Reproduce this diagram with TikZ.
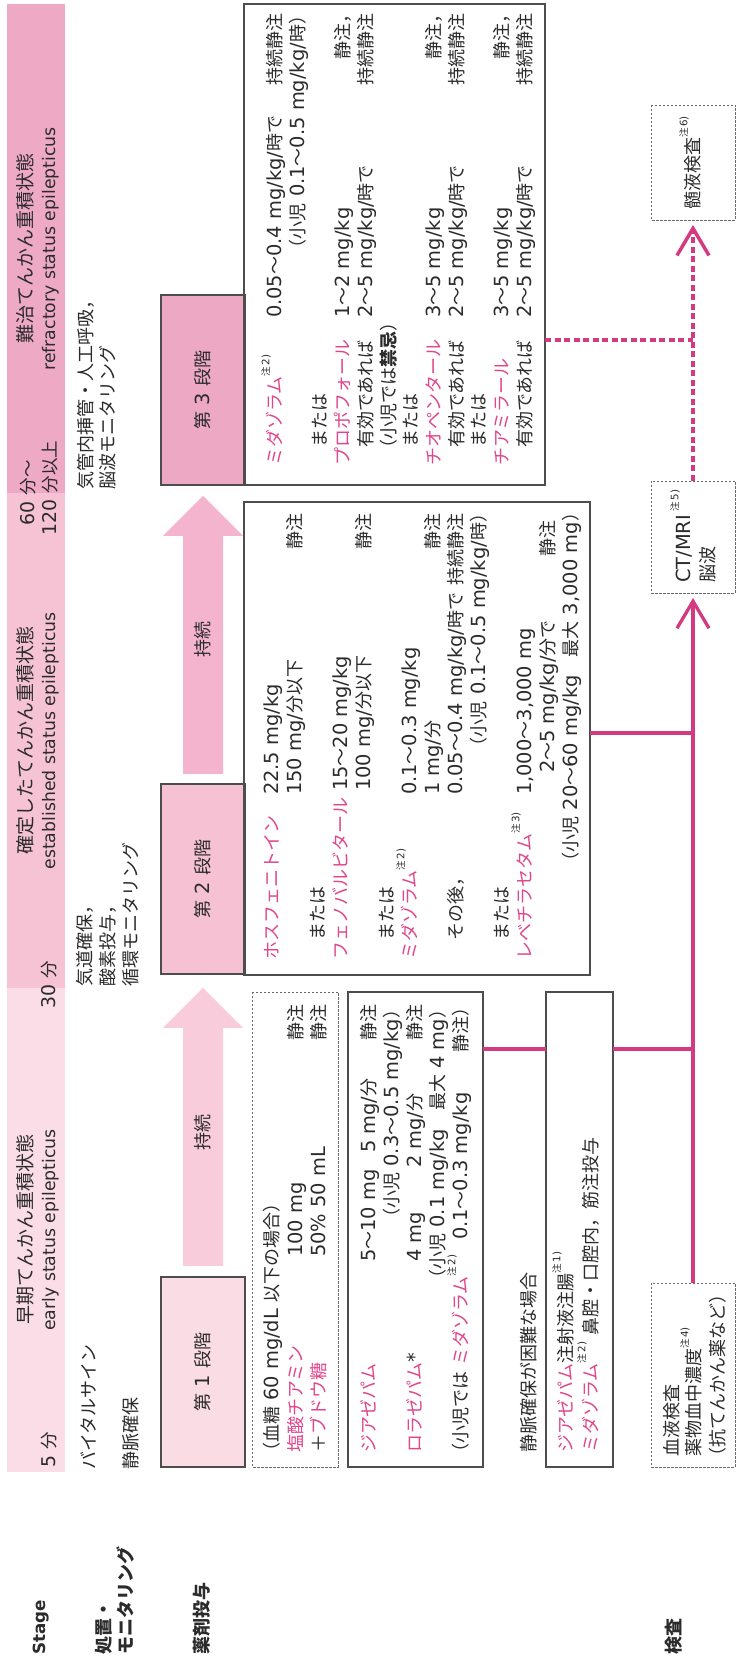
\documentclass[tikz,border=0pt]{standalone}
\usepackage{fontspec}
\setmainfont{DejaVu Sans}[Scale=1.08]
\newfontfamily\latf{DejaVu Sans}[Scale=1.08]
\newfontfamily\cjkf{Noto Sans CJK JP}
\usetikzlibrary{arrows.meta}
\XeTeXinterchartokenstate=1
\newXeTeXintercharclass\cjkcls
\newcount\cjkcc
\def\setcjkrange#1#2{\cjkcc=#1\relax\loop\XeTeXcharclass\cjkcc=\cjkcls\relax\ifnum\cjkcc<#2\relax\advance\cjkcc by 1\relax\repeat}
\setcjkrange{"3000}{"30FF}
\setcjkrange{"4E00}{"9FFF}
\setcjkrange{"FF00}{"FFEF}
\XeTeXinterchartoks 0 \cjkcls = {\cjkf}
\XeTeXinterchartoks 4095 \cjkcls = {\cjkf}
\XeTeXinterchartoks \cjkcls 0 = {\latf}
\XeTeXinterchartoks \cjkcls 4095 = {\latf}
\XeTeXinterchartoks 4095 0 = {\latf}

\definecolor{bandA}{HTML}{FADDE6}
\definecolor{bandB}{HTML}{F6C3D5}
\definecolor{bandC}{HTML}{EEA9C4}
\definecolor{fillA}{HTML}{FADCE5}
\definecolor{fillB}{HTML}{F5C1D3}
\definecolor{fillC}{HTML}{EDA8C3}
\definecolor{arA}{HTML}{F9CCDB}
\definecolor{arB}{HTML}{F5B4CD}
\definecolor{pinkt}{HTML}{E0468C}
\definecolor{mag}{HTML}{D43A80}
\definecolor{bord}{HTML}{4D4D4D}
\definecolor{dbord}{HTML}{6A6A6A}
\definecolor{txtc}{HTML}{2B2B2B}

\newcommand\pk[1]{\textcolor{pinkt}{#1}}
\newcommand\nt[1]{\raisebox{0.62em}{\fontsize{9.5}{10}\selectfont 注\,#1)}}
\newcommand\txL[4]{\node[tl] (#1) at (#2,{#3+6.5}) {#4};}
\newcommand\txR[4]{\node[tr] (#1) at (#2,{#3+6.5}) {#4};}

\tikzset{
  every node/.style={inner sep=0pt, outer sep=0pt, text=txtc},
  tl/.style={font=\fontsize{18}{22}\selectfont, anchor=base west},
  tr/.style={font=\fontsize{18}{22}\selectfont, anchor=base east},
  hd/.style={font=\fontsize{18}{22}\bfseries\selectfont, anchor=base west},
  tbJ/.style={font=\fontsize{19}{22}\selectfont, anchor=base},
  tbE/.style={font=\fontsize{16}{20}\selectfont, anchor=base},
  tbT/.style={font=\fontsize{17.5}{20}\selectfont, anchor=base},
  stagebox/.style={draw=bord, line width=1.1pt, anchor=north west, minimum width=190pt, minimum height=84pt, font=\fontsize{18}{22}\selectfont},
  sbox/.style={draw=bord, line width=1.1pt, anchor=north west},
  dbox/.style={draw=dbord, line width=0.9pt, dash pattern=on 2.5pt off 1.5pt, anchor=north west},
  mline/.style={draw=mag, line width=3.3pt},
  mdash/.style={draw=mag, line width=3.5pt, dash pattern=on 6pt off 3.5pt},
  barb/.style={-{Straight Barb[length=27pt,width=32pt]}, shorten >=5pt},
}

\begin{document}
\begin{tikzpicture}[x=1pt,y=1pt]
\begin{scope}[y=-1pt, rotate=90, transform shape]
\useasboundingbox (0,0) rectangle (1661,736);
\fill[white] (0,0) rectangle (1661,736);

% ---------- Stage band ----------
\fill[bandA] (189,7) rectangle (673,65);
\fill[bandB] (673,7) rectangle (1168,65);
\fill[bandC] (1168,7) rectangle (1657,65);
\node[tbJ] (lbE1) at (431,32) {早期てんかん重積状態};
\node[tbE] (lbE2) at (431,55) {early status epilepticus};
\node[tbJ] (lbS1) at (920,32) {確定したてんかん重積状態};
\node[tbE] (lbS2) at (920,55) {established status epilepticus};
\node[tbJ] (lbR1) at (1412,32) {難治てんかん重積状態};
\node[tbE] (lbR2) at (1412,55) {refractory status epilepticus};
\node[tbT, anchor=base west] (tm5) at (193,55) {5 分};
\node[tbT] (tm30) at (676,55) {30 分};
\node[tbT] (tm60) at (1168,34) {60 分～};
\node[tbT] (tm120) at (1173,56) {120 分以上};

% ---------- row headings ----------
\node[hd, font=\fontsize{15.5}{20}\bfseries\selectfont] (hStage) at (6,45) {Stage};
\node[hd] (hTx1) at (6,110) {処置・};
\node[hd] (hTx2) at (6,132) {モニタリング};
\node[hd] (hDrug) at (6,208) {薬剤投与};
\node[hd] (hTest) at (6,680) {検査};

% ---------- treatment / monitoring ----------
\txL{v1}{191}{89}{バイタルサイン}
\txL{v2}{191}{131}{静脈確保}
\txL{v3}{674}{85}{気道確保，}
\txL{v4}{674}{108}{酸素投与，}
\txL{v5}{674}{131}{循環モニタリング}
\txL{v6}{1171}{86}{気管内挿管・人工呼吸，}
\txL{v7}{1171}{108}{脳波モニタリング}

% ---------- stage boxes and arrows ----------
\node[stagebox, fill=fillA] (st1) at (194,161) {第 1 段階};
\node[stagebox, fill=fillB] (st2) at (687,161) {第 2 段階};
\node[stagebox, fill=fillC] (st3) at (1176,161) {第 3 段階};
\fill[arA] (395,183) -- (633,183) -- (633,163) -- (673,203) -- (633,243) -- (633,223) -- (395,223) -- cycle;
\node[font=\fontsize{18}{22}\selectfont] (ar1t) at (528,203) {持続};
\fill[arB] (887,183) -- (1125,183) -- (1125,163) -- (1165,203) -- (1125,243) -- (1125,223) -- (887,223) -- cycle;
\node[font=\fontsize{18}{22}\selectfont] (ar2t) at (1021,203) {持続};

% ---------- stage 1 : glucose (dashed) ----------
\node[dbox, minimum width=475pt, minimum height=86pt] (g1) at (194,252) {};
\txL{g1a}{200}{272}{（血糖 60 mg/dL 以下の場合）}
\txL{g1b}{208}{296}{\pk{塩酸チアミン}}
\txL{g1c}{404}{296}{100 mg}
\txR{g1d}{656}{296}{静注}
\txL{g1e}{208}{319}{＋\pk{ブドウ糖}}
\txL{g1f}{404}{319}{50\% 50 mL}
\txR{g1g}{656}{319}{静注}

% ---------- stage 1 : benzodiazepines ----------
\node[sbox, minimum width=475pt, minimum height=135pt] (b1) at (194,348) {};
\txL{b1a}{208}{369}{\pk{ジアゼパム}}
\txL{b1b}{399}{369}{5～10 mg}
\txL{b1c}{508}{369}{5 mg/分}
\txR{b1d}{656}{369}{静注}
\txR{b1e}{660}{392}{（小児 0.3～0.5 mg/kg）}
\txL{b1f}{208}{415}{\pk{ロラゼパム}*}
\txL{b1g}{399}{415}{4 mg}
\txL{b1h}{493}{415}{2 mg/分}
\txR{b1i}{656}{415}{静注}
\txR{b1j}{660}{438}{（小児 0.1 mg/kg　最大 4 mg）}
\txL{b1k}{199}{461}{（小児では \pk{ミダゾラム}\nt{2}}
\txL{b1l}{421}{461}{0.1～0.3 mg/kg}
\txR{b1m}{662}{461}{静注）}

\txL{nv}{208}{529}{静脈確保が困難な場合}

% ---------- intranasal etc ----------
\node[sbox, minimum width=475pt, minimum height=67pt] (b2) at (194,546) {};
\txL{b2a}{208}{566}{\pk{ジアゼパム}注射液注腸\nt{1}}
\txL{b2b}{208}{591}{\pk{ミダゾラム}\nt{2} 鼻腔・口腔内，筋注投与}

% ---------- stage 2 content ----------
\node[sbox, minimum width=473pt, minimum height=346pt] (b3) at (686,244) {};
\txL{c1}{701}{272}{\pk{ホスフェニトイン}}
\txL{c1v}{866}{272}{22.5 mg/kg}
\txL{c2v}{866}{295}{150 mg/分以下}
\txR{c2r}{1147}{295}{静注}
\txL{c3}{720}{318}{または}
\txL{c4}{701}{341}{\pk{フェノバルビタール}}
\txL{c4v}{870}{341}{15～20 mg/kg}
\txL{c5v}{870}{364}{100 mg/分以下}
\txR{c5r}{1147}{364}{静注}
\txL{c6}{720}{387}{または}
\txL{c7}{701}{410}{\pk{ミダゾラム}\nt{2}}
\txL{c7v}{866}{410}{0.1～0.3 mg/kg}
\txL{c8v}{866}{433}{1 mg/分}
\txR{c8r}{1147}{433}{静注}
\txL{c9}{720}{456}{その後，}
\txL{c9v}{866}{456}{0.05～0.4 mg/kg/時で}
\txR{c9r}{1147}{456}{持続静注}
\txR{c10}{1156}{479}{（小児 0.1～0.5 mg/kg/時）}
\txL{c11}{720}{502}{または}
\txL{c12}{701}{525}{\pk{レベチラセタム}\nt{3}}
\txL{c12v}{866}{525}{1,000～3,000 mg}
\txL{c13v}{888}{548}{2～5 mg/kg/分で}
\txR{c13r}{1140}{548}{静注}
\txR{c14}{1157}{571}{（小児 20～60 mg/kg　最大 3,000 mg）}

% ---------- stage 3 content ----------
\node[sbox, minimum width=481pt, minimum height=301pt] (b4) at (1176,244) {};
\txL{d1}{1195}{275}{\pk{ミダゾラム}\nt{2}}
\txL{d1v}{1343}{275}{0.05～0.4 mg/kg/時で}
\txR{d1r}{1647}{275}{持続静注}
\txR{d2}{1654}{298}{（小児 0.1～0.5 mg/kg/時）}
\txL{d3}{1213}{320}{または}
\txL{d4}{1195}{343}{\pk{プロポフォール}}
\txL{d4v}{1343}{343}{1～2 mg/kg}
\txR{d4r}{1655}{343}{静注，}
\txL{d5}{1213}{366}{有効であれば}
\txL{d5v}{1343}{366}{2～5 mg/kg/時で}
\txR{d5r}{1647}{366}{持続静注}
\txL{d6}{1203}{389}{（小児では\textbf{禁忌}）}
\txL{d7}{1213}{411}{または}
\txL{d8}{1195}{434}{\pk{チオペンタール}}
\txL{d8v}{1343}{434}{3～5 mg/kg}
\txR{d8r}{1655}{434}{静注，}
\txL{d9}{1213}{457}{有効であれば}
\txL{d9v}{1343}{457}{2～5 mg/kg/時で}
\txR{d9r}{1647}{457}{持続静注}
\txL{d10}{1213}{479}{または}
\txL{d11}{1195}{502}{\pk{チアミラール}}
\txL{d11v}{1343}{502}{3～5 mg/kg}
\txR{d11r}{1655}{502}{静注，}
\txL{d12}{1213}{525}{有効であれば}
\txL{d12v}{1343}{525}{2～5 mg/kg/時で}
\txR{d12r}{1647}{525}{持続静注}

% ---------- tests ----------
\node[dbox, minimum width=184pt, minimum height=84pt] (x1) at (194,651) {};
\txL{x1a}{204}{672}{血液検査}
\txL{x1b}{204}{694}{薬物血中濃度\nt{4}}
\txL{x1c}{195}{718}{（抗てんかん薬など）}
\node[dbox, minimum width=112pt, minimum height=84pt] (x2) at (1068,651) {};
\txL{x2a}{1078}{684}{CT/MRI\,\nt{5}}
\txL{x2b}{1078}{708}{脳波}
\node[dbox, minimum width=115pt, minimum height=84pt] (x3) at (1441,651) {};
\txL{x3a}{1451}{693}{髄液検査\nt{6}}

% ---------- connectors ----------
\coordinate (jA) at (612,693);
\coordinate (jB) at (928,693);
\coordinate (jC) at (1321,693);
\draw[mline] (b1.south -| jA) -- (b2.north -| jA);
\draw[mline] (b2.south -| jA) -- (jA);
\draw[mline] (b3.south -| jB) -- (jB);
\draw[mline, barb] (x1.east) -- (x2.west);
\draw[mdash] (b4.south -| jC) -- (jC);
\draw[mdash, barb] (x2.east) -- (x3.west);
\end{scope}
\end{tikzpicture}
\end{document}
